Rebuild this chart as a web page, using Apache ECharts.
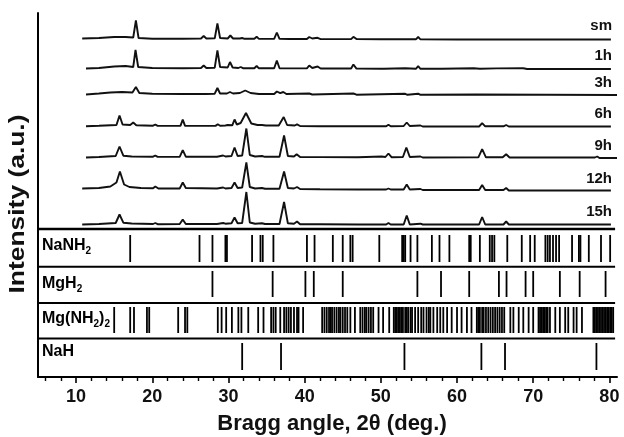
<!DOCTYPE html>
<html><head><meta charset="utf-8">
<script src="https://cdn.jsdelivr.net/npm/echarts@6/dist/echarts.min.js"></script>
<style>html,body{margin:0;padding:0;background:#fff}#c{width:624px;height:437px}</style>
</head><body><div id="c"></div>
<script>
// ---- data: [2theta (deg), intensity above trace baseline (a.u.)] ----
const traceNames = ['sm', '1h', '3h', '6h', '9h', '12h', '15h'];
const traceOffsets = [337.5, 308, 282, 250.5, 219.5, 187.5, 152.5];

const sm = [[10.8,1],[13,1.5],[15,2.5],[16.5,2.5],[17.5,2],[17.85,19],[18.2,1.5],[20,0.8],[24,0.8],[26.4,1],[26.75,3.5],[27.1,1],[28.2,1.2],[28.55,16],[28.9,1.5],[29.9,1],[30.25,4],[30.6,1],[31.5,1],[31.8,1.5],[32.1,0.7],[33.4,0.7],[33.7,2.7],[34,0.6],[36.0,0.6],[36.35,7],[36.7,0.6],[38,0.5],[40.3,0.5],[40.6,2.5],[41.0,1.0],[41.7,1.7],[42.1,0.4],[44,0.4],[44.2,1.3],[44.5,0.4],[45.1,0.4],[45.3,1.3],[45.6,0.4],[46.1,0.4],[46.4,2.7],[46.8,0.4],[50,0.3],[50.1,1],[50.3,0.3],[54.6,0.2],[54.9,2.5],[55.2,0.2],[60,0],[80.2,0]];
const h1 = [[11.3,0.5],[13,1],[15,2.5],[16.5,3],[17.5,2],[17.8,19],[18.15,2],[20,1],[24,0.8],[26.4,1],[26.75,3.5],[27.1,1],[28.2,1.3],[28.55,18.5],[28.9,2],[29.9,1.5],[30.2,7],[30.55,1.5],[31.3,1],[31.6,2],[31.9,0.8],[33.4,0.8],[33.7,3],[34,0.7],[36.0,0.7],[36.35,8.5],[36.7,0.8],[38,0.6],[40.3,0.6],[40.6,3.5],[41.0,1],[41.7,2.5],[42.1,0.5],[44,0.5],[44.2,1.5],[44.5,0.5],[45.1,0.5],[45.3,1.8],[45.6,0.5],[46.1,0.5],[46.4,4.5],[46.8,0.4],[50,0.3],[50.1,1.3],[50.4,0.3],[53.2,0.8],[54.6,0.2],[54.9,2.8],[55.2,0.2],[58,0.2],[62.2,0.8],[63,0.2],[65.2,0.6],[68.7,0.8],[69.2,0],[80.2,0]];
const h3 = [[11.3,0.5],[13,1.5],[14.5,2.5],[16,3],[17.4,2.5],[17.85,8],[18.3,2],[20,1.3],[24,1],[27,1],[28.2,1.3],[28.55,7],[28.9,1.5],[29.8,1.5],[30.2,3],[30.6,1.5],[31.5,2],[32.2,4.5],[32.9,2],[34,1],[36,1],[36.35,3.5],[36.8,1.8],[37.2,3],[37.6,1],[40.6,1.5],[41,0.5],[46.4,1.5],[46.8,0.3],[53.2,1.2],[53.5,0.2],[54.9,1.3],[55.2,0.2],[62.5,0.5],[81,0]];
const h6 = [[11.3,0.3],[13,0.8],[15.3,1.5],[15.7,11],[16.1,2],[17.1,1.5],[17.5,4],[17.9,1.3],[20.1,0.8],[20.4,2],[20.7,0.6],[23.7,0.6],[24.0,6.8],[24.3,0.6],[28.3,0.6],[28.6,2.2],[28.9,0.8],[29.6,1],[29.9,1.5],[30.5,1.2],[30.8,7],[31.1,2],[31.6,3.5],[32.3,13.5],[33.0,3],[33.8,1.5],[34.4,1.5],[34.9,1],[36.6,1],[37.25,9.5],[37.7,1.5],[38.7,1],[39.0,2.2],[39.4,0.5],[42,0.3],[47,0.2],[50.7,0.3],[51,1.8],[51.3,0.3],[53,0.5],[53.4,4],[53.8,0.5],[55.2,1],[55.5,0],[62.9,0],[63.3,3.3],[63.7,0.2],[66.1,0.2],[66.45,1.5],[66.8,0],[80.2,0]];
const h9 = [[11.3,0],[13,0.5],[15.2,1.5],[15.7,11],[16.2,1.8],[17.3,1],[20.1,0.8],[20.4,2],[20.7,0.6],[23.6,0.6],[24.0,7.3],[24.4,0.8],[28.5,0.8],[29.3,2],[29.6,1],[30.4,1.5],[30.8,10],[31.2,1.5],[31.8,2],[32.35,29],[32.8,2.5],[33.5,1],[34.4,1.5],[34.8,0.7],[36.7,0.7],[37.3,22],[37.8,1.5],[38.6,1],[38.95,3.3],[39.4,0.5],[42,0.4],[47,0.3],[50.1,1],[50.6,0.5],[51.0,4],[51.4,0.3],[52.9,0.5],[53.35,10],[53.8,0.5],[55.2,1],[55.5,0],[62.8,0.2],[63.3,8.3],[63.8,0.2],[66.0,0.2],[66.45,3.3],[66.9,0],[78.1,0],[78.4,1],[78.7,-0.5],[81,-0.5]];
const h12 = [[10.8,1],[13,1.5],[14.5,3],[15.3,7],[15.75,18],[16.3,5],[17,2.5],[18.5,1.5],[20.1,1.2],[20.4,3],[20.8,1],[23.6,1],[24.0,7],[24.4,1.5],[28.5,1],[29.3,2],[29.6,1],[30.4,1.5],[30.8,7],[31.2,1.5],[31.8,2],[32.35,27],[32.8,2.5],[33.5,1],[34.4,1.5],[34.8,0.8],[36.7,0.8],[37.3,18],[37.8,1.5],[38.6,1],[39.0,2.5],[39.4,0.5],[42,0.3],[47,0],[50.7,0],[51,1],[51.3,0],[53,0],[53.4,5],[53.8,0],[55.2,0.5],[55.5,-0.5],[62.9,-0.5],[63.3,4.5],[63.7,-0.5],[66.1,-0.5],[66.45,1.5],[66.8,-1],[80.2,-1]];
const h15 = [[10.8,0],[13,0.5],[15.2,1.5],[15.7,10],[16.2,1.8],[17.3,1],[20.1,0.5],[20.4,1.5],[20.7,0.3],[23.6,0.5],[24.0,5],[24.4,0.5],[28.5,0.5],[29.3,1.5],[29.6,0.8],[30.4,1.2],[30.8,7],[31.2,1.2],[31.8,1.5],[32.35,32.5],[32.8,2],[33.5,0.8],[34.4,1.2],[34.8,0.5],[36.7,0.5],[37.3,22.5],[37.8,1.2],[38.6,0.8],[39.0,3],[39.4,0.3],[42,0.2],[47,0],[50.7,0],[51,1.5],[51.3,0],[53,0],[53.4,9],[53.8,0],[55.2,0.8],[55.5,0],[62.9,0],[63.3,7.5],[63.7,0],[66.1,0],[66.45,3],[66.8,0],[80.2,0]];
const traces = [sm, h1, h3, h6, h9, h12, h15];

// reference stick patterns (2theta positions)
const phaseNames = ['NaNH2', 'MgH2', 'Mg(NH2)2', 'NaH'];
const NaNH2 = [17.1,26.2,27.9,29.6,29.8,33.1,34.2,34.5,35.9,40.3,41.3,43.7,45.0,46.0,46.3,49.8,52.8,53.0,53.2,53.9,54.8,56.7,57.7,59.0,61.6,61.8,63.0,64.3,64.6,64.9,66.6,68.5,69.6,70.2,71.6,71.9,72.2,72.6,73.0,73.4,75.1,76.0,76.2,77.3,78.9,80.1];
const MgH2 = [27.9,35.8,40.1,41.2,45.0,54.8,57.9,61.6,65.5,66.5,69.0,70.0,73.5,76.1,79.5];
const MgNH22 = [15.0,17.1,17.6,19.3,19.6,23.4,24.3,24.6,28.6,29.1,29.7,30.45,31.3,31.7,32.6,33.9,34.6,35.6,35.9,36.2,36.8,37.3,37.6,37.9,38.2,38.6,39.0,39.2,39.8,42.3,42.6,42.9,43.2,43.4,43.6,43.9,44.2,44.5,44.7,45.0,45.3,45.6,46.0,46.6,47.3,47.6,47.9,48.1,48.4,48.7,49.0,49.7,50.3,51.1,51.7,51.9,52.1,52.3,52.5,52.7,52.9,53.2,53.4,53.6,53.9,54.1,54.5,54.9,55.3,55.6,56.0,56.3,56.5,56.9,57.4,57.8,58.2,58.7,59.3,60.0,60.6,61.3,61.9,62.6,62.8,63.0,63.3,63.5,63.8,64.1,64.4,64.7,65.0,65.3,65.6,65.9,66.2,67.0,67.4,68.1,68.7,69.4,70.0,70.7,70.9,71.1,71.3,71.5,71.7,71.9,72.2,72.9,73.5,74.2,74.6,75.3,75.7,76.4,77.9,78.1,78.3,78.5,78.7,78.9,79.1,79.3,79.5,79.7,79.9,80.1,80.3,80.5];
const NaH = [31.8,36.9,53.1,63.2,66.3,78.3];
const phases = [NaNH2, MgH2, MgNH22, NaH];

const majorTicks = [10, 20, 30, 40, 50, 60, 70, 80];
const minorTicks = [6, 8, 12, 14, 16, 18, 22, 24, 26, 28, 32, 34, 36, 38, 42, 44, 46, 48, 52, 54, 56, 58, 62, 64, 66, 68, 72, 74, 76, 78];

// ---- layout (y axis in a.u. of the stacked plot) ----
const stickRange = [[115, 142], [80, 106], [44, 70], [7, 34]];
const panelLines = [148, 110.3, 74, 38.5];
const panelLabelY = [249, 287, 322, 355];
const labelY = [27, 57.5, 84.5, 115.5, 147, 180.5, 213.5];

const FONT = '"Liberation Sans", Arial, Helvetica, sans-serif';
const chart = echarts.init(document.getElementById('c'), null, {renderer: 'canvas'});

const lineSeries = traces.map((t, i) => ({
  type: 'line', name: traceNames[i], xAxisIndex: 0, yAxisIndex: 0,
  data: t.map(p => [p[0], p[1] + traceOffsets[i]]),
  showSymbol: false, symbol: 'none', smooth: false, silent: true, animation: false,
  lineStyle: {color: '#111', width: 1.9}
}));

const stickData = [];
phases.forEach((arr, i) => arr.forEach(x => stickData.push([x, i])));

const stickSeries = {
  type: 'custom', xAxisIndex: 0, yAxisIndex: 0, animation: false, silent: true,
  data: stickData, clip: false,
  renderItem: function (params, api) {
    const x = api.value(0), i = api.value(1);
    const p1 = api.coord([x, stickRange[i][1]]);
    const p2 = api.coord([x, stickRange[i][0]]);
    return {type: 'line', shape: {x1: p1[0], y1: p1[1], x2: p2[0], y2: p2[1]},
      style: {stroke: '#000', lineWidth: 1.8}};
  }
};

const panelSeries = {
  type: 'custom', xAxisIndex: 0, yAxisIndex: 0, animation: false, silent: true, clip: false,
  data: panelLines.map(v => [5, v]),
  renderItem: function (params, api) {
    const v = api.value(1);
    const p1 = api.coord([5, v]);
    const p2 = api.coord([80.75, v]);
    return {type: 'line', shape: {x1: p1[0], y1: p1[1], x2: p2[0], y2: p2[1]},
      style: {stroke: '#000', lineWidth: params.dataIndex === 0 ? 2.4 : 2}};
  }
};

const graphics = [];
traceNames.forEach((n, i) => graphics.push({
  type: 'text', right: 12, top: labelY[i] - 9,
  style: {text: n, font: 'bold 15px ' + FONT, fill: '#111'}
}));
const richStyle = {
  b: {fontSize: 16, fontWeight: 'bold', fontFamily: FONT, color: '#111'},
  s: {fontSize: 10, fontWeight: 'bold', fontFamily: FONT, color: '#111', padding: [11, 0, 0, 0]}
};
const panelRich = ['{b|NaNH}{s|2}', '{b|MgH}{s|2}', '{b|Mg(NH}{s|2}{b|)}{s|2}', '{b|NaH}'];
panelRich.forEach((t, i) => graphics.push({
  type: 'text', left: 42, top: panelLabelY[i] - 11,
  style: {text: t, rich: richStyle}
}));
graphics.push({
  type: 'text', x: 332, y: 424,
  style: {text: 'Bragg angle, 2θ (deg.)', font: 'bold 22px ' + FONT, fill: '#111', align: 'center', verticalAlign: 'middle'}
});
graphics.push({
  type: 'text', x: 18, y: 204, rotation: Math.PI / 2, scaleX: 1.2,
  style: {text: 'Intensity (a.u.)', font: 'bold 22px ' + FONT, fill: '#111', align: 'center', verticalAlign: 'middle'}
});

chart.setOption({
  animation: false,
  backgroundColor: '#fff',
  grid: {left: 38, right: 7, top: 13, bottom: 60, containLabel: false},
  xAxis: [{
    type: 'value', min: 5, max: 81, position: 'bottom',
    axisLine: {show: true, lineStyle: {color: '#000', width: 2}},
    axisTick: {show: true, customValues: majorTicks, length: 6, lineStyle: {color: '#000', width: 1.6}},
    axisLabel: {show: true, customValues: majorTicks, margin: 11, fontSize: 18, fontWeight: 'bold', fontFamily: FONT, color: '#111'},
    splitLine: {show: false}
  }, {
    type: 'value', min: 5, max: 81, position: 'bottom', gridIndex: 0,
    axisLine: {show: false},
    axisTick: {show: true, customValues: minorTicks, length: 4, lineStyle: {color: '#000', width: 1.4}},
    axisLabel: {show: false},
    splitLine: {show: false}
  }],
  yAxis: [{
    type: 'value', min: 0, max: 364,
    axisLine: {show: true, lineStyle: {color: '#000', width: 2}},
    axisTick: {show: false}, axisLabel: {show: false}, splitLine: {show: false}
  }],
  series: lineSeries.concat([panelSeries, stickSeries]),
  graphic: graphics
});
</script></body></html>
